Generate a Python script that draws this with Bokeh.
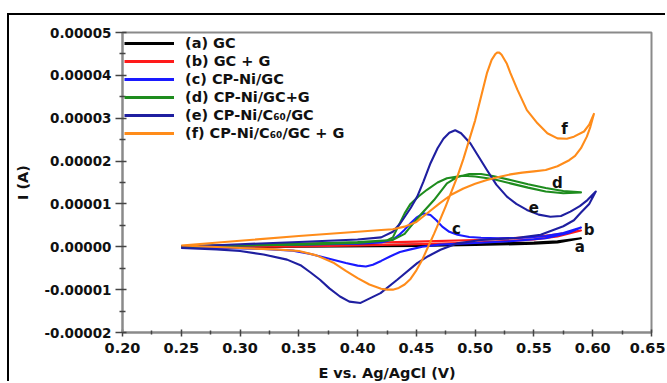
from bokeh.plotting import figure
from bokeh.models import FixedTicker, PrintfTickFormatter, Legend, LegendItem
from bokeh.core.properties import value
from bokeh.embed import file_html
from bokeh.resources import INLINE

UNIT = 1e-5  # current values below are in units of 1e-5 A

x_ticks = [0.20, 0.25, 0.30, 0.35, 0.40, 0.45, 0.50, 0.55, 0.60, 0.65]
x_minor = [0.225, 0.275, 0.325, 0.375, 0.425, 0.475, 0.525, 0.575, 0.625]
y_ticks = [-2e-5, -1e-5, 0.0, 1e-5, 2e-5, 3e-5, 4e-5, 5e-5]
y_minor = [-1.5e-5, -0.5e-5, 0.5e-5, 1.5e-5, 2.5e-5, 3.5e-5, 4.5e-5]

series_labels = ["(a) GC", "(b) GC + G", "(c) CP-Ni/GC", "(d) CP-Ni/GC+G",
                 "(e) CP-Ni/C\u2086\u2080/GC", "(f) CP-Ni/C\u2086\u2080/GC + G"]
series_colors = ["#000000", "#ff1a1a", "#1a1aff", "#1e8c1e", "#1f1fa0", "#ff8c1a"]

# (a) GC
a_E = [0.25, 0.35, 0.45, 0.50, 0.55, 0.57, 0.59,
       0.57, 0.55, 0.50, 0.45, 0.35, 0.25]
a_I = [0.00, 0.02, 0.05, 0.07, 0.10, 0.13, 0.20,
       0.10, 0.07, 0.04, 0.02, 0.00, -0.01]

# (b) GC + G
b_E = [0.25, 0.30, 0.35, 0.40, 0.45, 0.50, 0.55, 0.57, 0.59,
       0.57, 0.55, 0.50, 0.45, 0.40, 0.35, 0.30, 0.25]
b_I = [0.01, 0.04, 0.07, 0.09, 0.12, 0.16, 0.23, 0.29, 0.38,
       0.24, 0.17, 0.10, 0.06, 0.03, 0.01, 0.00, -0.01]

# (c) CP-Ni/GC
c_E = [0.25, 0.30, 0.35, 0.40, 0.42, 0.43, 0.435, 0.44, 0.445, 0.45, 0.456, 0.462,
       0.467, 0.472, 0.478, 0.485, 0.495, 0.505, 0.52, 0.54, 0.56, 0.575, 0.59,
       0.58, 0.56, 0.53, 0.50, 0.47, 0.455, 0.445, 0.436, 0.428, 0.42, 0.413, 0.407,
       0.40, 0.39, 0.38, 0.37, 0.36, 0.345, 0.32, 0.28, 0.25]
c_I = [0.00, 0.03, 0.05, 0.07, 0.10, 0.17, 0.27, 0.40, 0.55, 0.68, 0.78, 0.74,
       0.62, 0.47, 0.35, 0.28, 0.23, 0.21, 0.20, 0.21, 0.25, 0.32, 0.45,
       0.33, 0.20, 0.13, 0.09, 0.05, 0.00, -0.06, -0.12, -0.22, -0.33, -0.42, -0.46,
       -0.44, -0.38, -0.31, -0.24, -0.17, -0.09, -0.05, -0.03, -0.02]

# (d) CP-Ni/GC+G
d_E = [0.25, 0.30, 0.35, 0.40, 0.43, 0.44, 0.445, 0.4534, 0.465, 0.476, 0.485, 0.495,
       0.505, 0.515, 0.53, 0.545, 0.56, 0.575, 0.59,
       0.575, 0.56, 0.545, 0.53, 0.515, 0.50, 0.49, 0.476, 0.468, 0.459, 0.452, 0.445,
       0.44, 0.4337, 0.43, 0.425, 0.40, 0.35, 0.30, 0.25]
d_I = [0.01, 0.04, 0.07, 0.11, 0.16, 0.30, 0.47, 0.74, 1.09, 1.48, 1.63, 1.70,
       1.70, 1.65, 1.56, 1.46, 1.37, 1.30, 1.27,
       1.25, 1.29, 1.38, 1.48, 1.58, 1.64, 1.66, 1.60, 1.50, 1.33, 1.18, 1.00,
       0.78, 0.43, 0.22, 0.15, 0.09, 0.05, 0.03, 0.00]

# (e) CP-Ni/C60/GC
e_E = [0.25, 0.30, 0.35, 0.40, 0.42, 0.43, 0.4364, 0.445, 0.4507, 0.456, 0.462, 0.468,
       0.473, 0.478, 0.483, 0.488, 0.496, 0.503, 0.510, 0.518, 0.527, 0.535, 0.544,
       0.554, 0.564, 0.573, 0.581, 0.589, 0.5955, 0.6026,
       0.597, 0.59, 0.584, 0.575, 0.5557, 0.533, 0.505, 0.485, 0.4705, 0.46, 0.4507,
       0.4337, 0.4195, 0.4025, 0.393, 0.385, 0.376, 0.368, 0.36, 0.3514, 0.34, 0.32,
       0.30, 0.28, 0.25]
e_I = [0.00, 0.06, 0.11, 0.17, 0.22, 0.35, 0.55, 0.90, 1.17, 1.52, 1.95, 2.30,
       2.52, 2.66, 2.72, 2.65, 2.41, 2.10, 1.79, 1.45, 1.17, 1.00, 0.86,
       0.75, 0.70, 0.72, 0.82, 0.95, 1.09, 1.29,
       1.00, 0.80, 0.62, 0.48, 0.28, 0.20, 0.16, 0.08, -0.07, -0.22, -0.38,
       -0.77, -1.08, -1.31, -1.28, -1.16, -0.97, -0.77, -0.60, -0.43, -0.30, -0.18,
       -0.10, -0.06, -0.03]

# (f) CP-Ni/C60/GC + G
f_E = [0.25, 0.30, 0.35, 0.40, 0.42, 0.43, 0.44, 0.45, 0.46, 0.47, 0.48, 0.49, 0.50,
       0.51, 0.52, 0.53, 0.54, 0.55, 0.56, 0.57, 0.58, 0.585, 0.59, 0.595, 0.598, 0.601,
       0.597, 0.5926, 0.584, 0.578, 0.570, 0.5614, 0.553, 0.544, 0.536, 0.530, 0.527,
       0.5225, 0.5205, 0.5185, 0.517, 0.514, 0.510, 0.505, 0.500, 0.495, 0.490, 0.485,
       0.480, 0.475, 0.470, 0.465, 0.460, 0.455, 0.450, 0.445, 0.440, 0.435, 0.430,
       0.425, 0.420, 0.41, 0.40, 0.39, 0.38, 0.365, 0.35, 0.33, 0.30, 0.25]
f_I = [0.03, 0.14, 0.25, 0.35, 0.39, 0.41, 0.47, 0.58, 0.80, 1.02, 1.22, 1.36, 1.47,
       1.56, 1.63, 1.69, 1.73, 1.76, 1.79, 1.88, 2.02, 2.12, 2.30, 2.57, 2.80, 3.10,
       2.85, 2.69, 2.57, 2.52, 2.53, 2.65, 2.88, 3.19, 3.66, 4.05, 4.27,
       4.48, 4.53, 4.53, 4.49, 4.36, 4.05, 3.50, 2.95, 2.50, 2.05, 1.65,
       1.30, 0.95, 0.62, 0.30, 0.00, -0.30, -0.55, -0.75, -0.88, -0.96, -1.00,
       -1.00, -0.98, -0.88, -0.73, -0.56, -0.38, -0.20, -0.10, -0.06, -0.03, 0.03]

tag_text = ["a", "b", "c", "d", "e", "f"]
tag_E = [0.589, 0.597, 0.484, 0.570, 0.550, 0.576]
tag_I = [-0.01, 0.39, 0.41, 1.50, 0.94, 2.76]

FONT = "DejaVu Sans"
OFF_X, OFF_Y = 9, 15  # outer frame line position (margin + border)

p = figure(width=667 - OFF_X, height=383 - OFF_Y, x_range=(0.20, 0.65), y_range=(-2e-5, 5e-5),
           output_backend="svg", toolbar_location=None,
           min_border_left=122 - OFF_X, min_border_right=16,
           min_border_top=32 - OFF_Y, min_border_bottom=50)
p.margin = (13, 0, 0, 7)
p.styles = {"border-left": "2px solid black", "border-top": "2px solid black"}
p.background_fill_color = "white"
p.border_fill_color = "white"
p.grid.visible = False
p.outline_line_color = "#8a8a8a"
p.outline_line_width = 2

p.xaxis.ticker = FixedTicker(ticks=x_ticks, minor_ticks=x_minor)
p.yaxis.ticker = FixedTicker(ticks=y_ticks, minor_ticks=y_minor)
p.xaxis.formatter = PrintfTickFormatter(format="%.2f")
p.yaxis.formatter = PrintfTickFormatter(format="%.5f")

for ax in (p.xaxis[0], p.yaxis[0]):
    ax.axis_line_color = "#8a8a8a"
    ax.axis_line_width = 2
    ax.major_tick_line_color = "#444444"
    ax.minor_tick_line_color = "#444444"
    ax.major_tick_line_width = 1.5
    ax.minor_tick_line_width = 1.5
    ax.major_label_text_font = FONT
    ax.major_label_text_font_style = "bold"
    ax.major_label_text_color = "#111111"
    ax.axis_label_text_font = FONT
    ax.axis_label_text_font_style = "bold"
    ax.axis_label_text_font_size = "14.5px"
    ax.axis_label_text_color = "#111111"

p.yaxis.major_tick_out = 7
p.yaxis.major_tick_in = 4
p.yaxis.minor_tick_out = 3
p.yaxis.minor_tick_in = 3
p.xaxis.major_tick_out = 4
p.xaxis.major_tick_in = 3
p.xaxis.minor_tick_out = 2
p.xaxis.minor_tick_in = 2
p.yaxis.major_label_text_font_size = "13.5px"
p.xaxis.major_label_text_font_size = "14.5px"
p.yaxis.major_label_standoff = 4
p.xaxis.major_label_standoff = 6
p.xaxis.axis_label = "E vs. Ag/AgCl (V)"
p.yaxis.axis_label = "I (A)"
p.xaxis.axis_label_standoff = 9
p.yaxis.axis_label_standoff = 10

curves = [(a_E, a_I), (b_E, b_I), (c_E, c_I), (d_E, d_I), (e_E, e_I), (f_E, f_I)]
items = []
for (E, I), lab, col in zip(curves, series_labels, series_colors):
    p.line(list(E), [y * UNIT for y in I], line_color=col, line_width=2.1,
           line_join="round")
    # legend-only swatch (drawn outside the visible x range) so the key line is thicker
    leg = p.line(x=[0.0, 0.01], y=[0.0, 0.0], line_color=col, line_width=3)
    items.append(LegendItem(label=lab, renderers=[leg]))

p.text(x=tag_E, y=[y * UNIT for y in tag_I], text=tag_text, text_font=value(FONT),
       text_font_style="bold", text_font_size="15px", text_align="center",
       text_baseline="middle", text_color="#111111")

legend = Legend(items=items, location="top_left", border_line_alpha=0,
                background_fill_alpha=0, glyph_width=50, glyph_height=18,
                label_height=18, spacing=0, padding=2, margin=0, label_standoff=11,
                label_text_font=FONT, label_text_font_style="bold",
                label_text_font_size="14.5px", label_text_color="#111111")
p.add_layout(legend)

open("out.html", "w").write(file_html(p, INLINE))
